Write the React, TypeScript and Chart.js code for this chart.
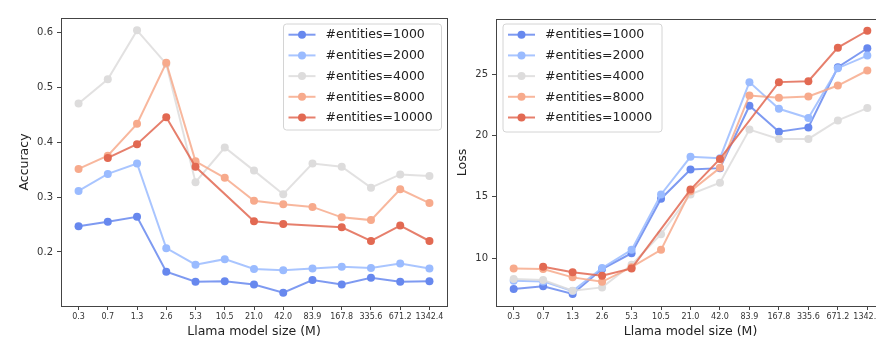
import React, { useEffect, useRef } from "react";
import { Chart, registerables } from "chart.js";

Chart.register(...registerables);

const sizeLabels = ["0.3", "0.7", "1.3", "2.6", "5.3", "10.5", "21.0", "42.0", "83.9", "167.8", "335.6", "671.2", "1342.4"];
const seriesNames = ["#entities=1000", "#entities=2000", "#entities=4000", "#entities=8000", "#entities=10000"];
const seriesColors = ["#6788ee", "#9abbff", "#dddcdc", "#f7aa8c", "#e26952"];

const acc1000 = [0.247, 0.255, 0.264, 0.164, 0.146, 0.147, 0.141, 0.126, 0.149, 0.141, 0.153, 0.146, 0.147];
const acc2000 = [0.311, 0.342, 0.361, 0.207, 0.177, 0.187, 0.169, 0.167, 0.170, 0.173, 0.171, 0.179, 0.170];
const acc4000 = [0.470, 0.514, 0.603, 0.542, 0.327, 0.390, 0.348, 0.305, 0.361, 0.355, 0.317, 0.341, 0.338];
const acc8000 = [0.351, 0.375, 0.433, 0.544, 0.365, 0.335, 0.293, 0.287, 0.282, 0.263, 0.258, 0.314, 0.289];
const acc10000 = [null, 0.371, 0.396, 0.445, 0.355, null, 0.256, 0.251, null, 0.245, 0.220, 0.248, 0.220];

const loss1000 = [7.47, 7.69, 7.06, 9.1, 10.4, 14.85, 17.24, 17.35, 22.45, 20.33, 20.68, 25.6, 27.15];
const loss2000 = [8.14, 8.09, 7.3, 9.18, 10.67, 15.2, 18.27, 18.16, 24.38, 22.2, 21.45, 25.52, 26.55];
const loss4000 = [8.28, 8.2, 7.33, 7.6, 9.45, 11.95, 15.2, 16.16, 20.5, 19.74, 19.74, 21.25, 22.26];
const loss8000 = [9.15, 9.1, 8.42, 8.06, 9.25, 10.67, 15.47, 17.38, 23.29, 23.1, 23.2, 24.1, 25.33];
const loss10000 = [null, 9.28, 8.83, 8.55, 9.15, null, 15.6, 18.1, null, 24.38, 24.46, 27.2, 28.58];

const accTicks = [0.2, 0.3, 0.4, 0.5, 0.6];
const lossTicks = [10, 15, 20, 25];

const FONT = "'DejaVu Sans', sans-serif";

function withAlpha(hex: string, a: number) {
  const r = parseInt(hex.slice(1, 3), 16);
  const g = parseInt(hex.slice(3, 5), 16);
  const b = parseInt(hex.slice(5, 7), 16);
  return `rgba(${r},${g},${b},${a})`;
}

const framePlugin = {
  id: "frame",
  afterDraw(chart: any) {
    const { ctx, chartArea } = chart;
    ctx.save();
    ctx.strokeStyle = "#444";
    ctx.lineWidth = 1;
    ctx.strokeRect(
      Math.round(chartArea.left) + 0.5,
      Math.round(chartArea.top) + 0.5,
      Math.round(chartArea.right - chartArea.left),
      Math.round(chartArea.bottom - chartArea.top)
    );
    ctx.restore();
  },
};

const boxLegendPlugin = {
  id: "boxLegend",
  afterDraw(chart: any, _args: any, opts: any) {
    const { ctx, chartArea } = chart;
    const w = opts.width;
    const h = opts.height;
    const left = opts.side === "right" ? chartArea.right - opts.inset - w : chartArea.left + opts.inset;
    const top = chartArea.top + opts.insetTop;
    ctx.save();
    ctx.beginPath();
    const r = 3;
    ctx.moveTo(left + r, top);
    ctx.lineTo(left + w - r, top);
    ctx.quadraticCurveTo(left + w, top, left + w, top + r);
    ctx.lineTo(left + w, top + h - r);
    ctx.quadraticCurveTo(left + w, top + h, left + w - r, top + h);
    ctx.lineTo(left + r, top + h);
    ctx.quadraticCurveTo(left, top + h, left, top + h - r);
    ctx.lineTo(left, top + r);
    ctx.quadraticCurveTo(left, top, left + r, top);
    ctx.closePath();
    ctx.fillStyle = "rgba(255,255,255,0.85)";
    ctx.fill();
    ctx.strokeStyle = "#d4d4d4";
    ctx.lineWidth = 1;
    ctx.stroke();
    chart.data.datasets.forEach((ds: any, i: number) => {
      const y = top + 10.7 + i * 20.7;
      const color = ds.pointBackgroundColor;
      ctx.strokeStyle = ds.borderColor;
      ctx.lineWidth = 2;
      ctx.beginPath();
      ctx.moveTo(left + 5, y);
      ctx.lineTo(left + 32, y);
      ctx.stroke();
      ctx.fillStyle = color;
      ctx.beginPath();
      ctx.arc(left + 18.5, y, 4, 0, Math.PI * 2);
      ctx.fill();
      ctx.fillStyle = "#222";
      ctx.font = `12.5px ${FONT}`;
      ctx.textBaseline = "middle";
      ctx.textAlign = "left";
      ctx.fillText(ds.label, left + 42, y + 0.5);
    });
    ctx.restore();
  },
};

function makeDatasets(series: (number | null)[][]) {
  return series.map((vals, i) => ({
    label: seriesNames[i],
    data: vals.map((v, k) => ({ x: k, y: v })),
    borderColor: withAlpha(seriesColors[i], 0.85),
    backgroundColor: seriesColors[i],
    pointBackgroundColor: seriesColors[i],
    pointBorderWidth: 0,
    pointRadius: 4,
    borderWidth: 2,
    spanGaps: true,
    order: series.length - 1 - i,
  }));
}

function makeConfig(opts: {
  series: (number | null)[][];
  yMin: number;
  yMax: number;
  yTicks: number[];
  yFmt: (v: number) => string;
  yTitle: string;
  yWidth: number;
  yTitlePad: number;
  padRight: number;
  padTop: number;
  legendSide: string;
  legendInset: number;
  legendInsetTop: number;
  legendW: number;
  legendH: number;
}): any {
  return {
    type: "line",
    data: { datasets: makeDatasets(opts.series) },
    plugins: [framePlugin, boxLegendPlugin],
    options: {
      animation: false,
      responsive: false,
      devicePixelRatio: 1,
      layout: { padding: { left: 0, right: opts.padRight, top: opts.padTop, bottom: 0 } },
      plugins: {
        legend: { display: false },
        tooltip: { enabled: false },
        boxLegend: {
          side: opts.legendSide,
          inset: opts.legendInset,
          insetTop: opts.legendInsetTop,
          width: opts.legendW,
          height: opts.legendH,
        },
      },
      scales: {
        x: {
          type: "linear",
          min: -0.6,
          max: 12.6,
          afterBuildTicks: (s: any) => {
            s.ticks = sizeLabels.map((_, i) => ({ value: i }));
          },
          afterFit: (s: any) => {
            s.height = 33;
          },
          border: { display: false },
          grid: { drawOnChartArea: false, drawTicks: true, tickLength: 4, tickColor: "#444" },
          ticks: {
            autoSkip: false,
            maxRotation: 0,
            padding: 2,
            color: "#333",
            font: { family: FONT, size: 8 },
            callback: (v: any) => sizeLabels[v] ?? "",
          },
          title: {
            display: true,
            text: "Llama model size (M)",
            color: "#222",
            font: { family: FONT, size: 12.5 },
            padding: { top: 0, bottom: 0 },
          },
        },
        y: {
          type: "linear",
          min: opts.yMin,
          max: opts.yMax,
          afterBuildTicks: (s: any) => {
            s.ticks = opts.yTicks.map((v) => ({ value: v }));
          },
          afterFit: (s: any) => {
            s.width = opts.yWidth;
          },
          border: { display: false },
          grid: { drawOnChartArea: false, drawTicks: true, tickLength: 4, tickColor: "#444" },
          ticks: {
            padding: 4,
            color: "#333",
            font: { family: FONT, size: 10 },
            callback: (v: any) => opts.yFmt(Number(v)),
          },
          title: {
            display: true,
            text: opts.yTitle,
            color: "#222",
            font: { family: FONT, size: 12.5 },
            padding: { top: opts.yTitlePad, bottom: 0 },
          },
        },
      },
    },
  };
}

export default function App() {
  const leftRef = useRef<HTMLCanvasElement | null>(null);
  const rightRef = useRef<HTMLCanvasElement | null>(null);

  useEffect(() => {
    const left = new Chart(
      leftRef.current as HTMLCanvasElement,
      makeConfig({
        series: [acc1000, acc2000, acc4000, acc8000, acc10000],
        yMin: 0.1018,
        yMax: 0.6255,
        yTicks: accTicks,
        yFmt: (v) => v.toFixed(1),
        yTitle: "Accuracy",
        yWidth: 61,
        yTitlePad: 17,
        padRight: 5,
        padTop: 18,
        legendSide: "right",
        legendInset: 5.5,
        legendInsetTop: 6,
        legendW: 158,
        legendH: 106,
      })
    );
    const right = new Chart(
      rightRef.current as HTMLCanvasElement,
      makeConfig({
        series: [loss1000, loss2000, loss4000, loss8000, loss10000],
        yMin: 6.08,
        yMax: 29.54,
        yTicks: lossTicks,
        yFmt: (v) => String(Math.round(v)),
        yTitle: "Loss",
        yWidth: 44,
        yTitlePad: 3.5,
        padRight: 7,
        padTop: 19,
        legendSide: "left",
        legendInset: 7,
        legendInsetTop: 5,
        legendW: 159,
        legendH: 108,
      })
    );
    return () => {
      left.destroy();
      right.destroy();
    };
  }, []);

  return (
    <div
      style={{
        position: "fixed",
        left: 0,
        top: 0,
        width: 876,
        height: 339,
        overflow: "hidden",
        background: "#fff",
      }}
    >
      <canvas
        ref={leftRef}
        width={452}
        height={339}
        style={{ position: "absolute", left: 0, top: 0, width: 452, height: 339, display: "block" }}
      />
      <canvas
        ref={rightRef}
        width={440}
        height={339}
        style={{ position: "absolute", left: 452, top: 0, width: 440, height: 339, display: "block" }}
      />
    </div>
  );
}
